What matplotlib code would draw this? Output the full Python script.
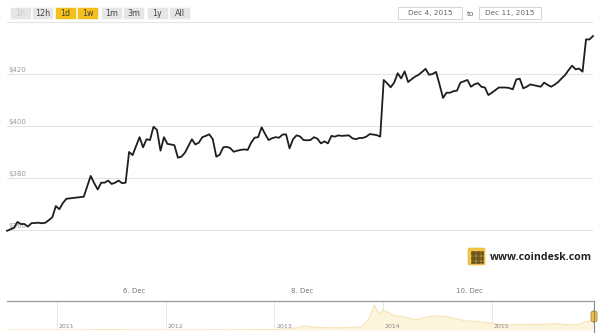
import numpy as np
import pandas as pd
import matplotlib
matplotlib.use("Agg")
import matplotlib.pyplot as plt
from matplotlib.patches import Rectangle, FancyBboxPatch

# hourly bitcoin price (hours after the first point)
start = pd.Timestamp("2015-12-04 11:30")
hours = [0, 2, 3, 4, 5, 6, 7, 9, 10, 11, 12, 13, 14, 15, 16, 17, 22,
         24, 25, 26, 27, 28, 29, 30, 31, 32, 33, 34, 35, 36, 37, 38, 39, 40,
         41, 42, 43, 44, 45, 46, 47, 48, 49, 50, 51, 52, 53, 54, 55, 56, 57,
         58, 59, 60, 61, 62, 63, 64, 65, 66, 67, 68, 69, 70, 71, 72, 73, 74,
         75, 76, 77, 78, 79, 80, 81, 82, 83, 84, 85, 86, 87, 88, 89, 90, 91,
         92, 93, 94, 95, 96, 98, 99, 100, 101, 102, 103, 104, 106, 107,
         108, 109, 110, 111, 112, 113, 114, 115, 116, 117, 118, 119, 120,
         121, 122, 123, 124, 125, 126, 127, 128, 129, 130, 131, 132, 133,
         134, 135, 136, 137, 138, 139, 140, 141, 143, 144, 145, 146, 147,
         148, 149, 150, 152, 153, 154, 155, 156, 157, 158, 159, 160, 161,
         162, 163, 164, 165, 166, 167, 168]
price = [359.7, 360.8, 363.1, 362.3, 362.3, 361.3, 362.6, 362.8, 362.6, 362.8,
         363.8, 364.9, 369.2, 368.0, 370.3, 372.0, 372.8,
         380.8, 378.0, 375.6, 378.2, 378.2, 379.0, 377.7, 378.2, 379.0, 378.0,
         378.2, 390.0, 388.8, 392.3, 395.7, 391.8, 394.9,
         394.6, 399.7, 398.5, 390.5, 395.7, 393.1, 392.9, 392.6, 387.8, 388.2,
         389.7, 392.3, 394.9, 392.9, 393.6, 395.7, 396.2,
         396.8, 394.9, 388.2, 389.0, 391.8, 392.0, 391.5, 390.1, 390.5, 390.8,
         391.0, 390.8, 393.6, 395.5, 395.7, 399.5, 396.9,
         394.6, 395.3, 395.7, 395.5, 396.7, 396.8, 391.4, 394.9, 396.4, 396.0,
         394.6, 394.5, 394.6, 395.7, 395.1, 393.3, 394.1,
         393.3, 396.2, 395.9, 396.4, 396.2, 396.4, 395.3, 394.9, 395.4, 395.4,
         395.9, 396.9, 396.5, 395.9,
         417.7, 416.4, 414.9, 416.7, 420.3, 418.3, 421.0, 416.9, 418.0, 419.0,
         419.7, 420.8, 422.0,
         419.7, 420.0, 420.8, 416.0, 410.8, 412.8, 412.8, 413.4, 413.6, 416.7,
         417.2, 417.7, 415.1,
         416.0, 416.5, 415.1, 414.8, 411.9, 412.8, 413.8, 414.8, 414.8, 414.6,
         414.1, 417.9, 418.2,
         414.5, 415.1, 416.0, 415.4, 415.1, 416.7, 415.8, 415.1, 415.9, 416.9,
         418.3, 419.6, 421.5,
         423.2, 421.8, 422.1, 420.9, 433.3, 433.3, 434.6]

y_grid = [360, 380, 400, 420, 440]
y_labels = ["$360", "$380", "$400", "$420"]
x_tick_days = ["2015-12-06", "2015-12-08", "2015-12-10"]
x_tick_labels = ["6. Dec", "8. Dec", "10. Dec"]

# navigator: whole price history (decimal year, usd), rough reading
nav_year = [2010.54, 2010.9, 2011.2, 2011.45, 2011.7, 2012.0, 2012.5, 2013.0,
            2013.2, 2013.28, 2013.4, 2013.6, 2013.8, 2013.87, 2013.92, 2013.96,
            2014.0, 2014.1, 2014.2, 2014.3, 2014.45, 2014.6, 2014.75, 2014.9,
            2015.0, 2015.1, 2015.3, 2015.5, 2015.6, 2015.7, 2015.8, 2015.85,
            2015.93]
nav_price = [0, 0.3, 1, 18, 5, 5, 7, 14, 90, 180, 110, 95, 140, 500, 1100, 700,
             880, 650, 560, 450, 620, 580, 410, 360, 300, 230, 240, 250, 280,
             230, 240, 360, 420]
nav_years = [2011, 2012, 2013, 2014, 2015]

W, H = 600, 333


def fx(x):
    return x / W


def fy(y):
    return 1 - y / H


fig = plt.figure(figsize=(6, 3.33), dpi=100)
fig.patch.set_facecolor("white")

# ---- main chart ----
ax = fig.add_axes([fx(7), fy(278), fx(586), 258 / H])
times = start + pd.to_timedelta(hours, unit="h")
ax.plot(times, price, color="#1e1e1e", linewidth=1.3, zorder=3, clip_on=False)
for g in y_grid:
    ax.axhline(g, color="#e4e4e4", linewidth=0.8, zorder=1)
ax.set_ylim(360 - 48 / 2.6, 360 + 210 / 2.6)
ax.set_xlim(start, start + pd.Timedelta(hours=168))
for g, lab in zip(y_grid, y_labels):
    ax.text(0.002, g + 1.7, lab, transform=ax.get_yaxis_transform(),
            fontsize=5, color="#9a9a9a", va="center", ha="left", zorder=2)
ax.set_xticks(pd.to_datetime(x_tick_days))
ax.set_xticklabels(x_tick_labels, fontsize=5, color="#777777")
ax.tick_params(axis="x", length=0, pad=7)
ax.set_yticks([])
for s in ax.spines.values():
    s.set_visible(False)

# ---- navigator ----
nav = fig.add_axes([fx(7), fy(330), fx(586), 29 / H])
nav.fill_between(nav_year, nav_price, color="#fdf4dc", linewidth=0)
nav.plot(nav_year, nav_price, color="#f7e3b5", linewidth=0.8)
nav.set_xlim(2010.54, 2015.93)
nav.set_ylim(0, 1280)
for yr in nav_years:
    nav.axvline(yr, color="#e8e8e8", linewidth=0.7, zorder=0)
    nav.text(yr + 0.015, 0.12, str(yr), transform=nav.get_xaxis_transform(),
             fontsize=4.5, color="#8a8a8a", ha="left", va="center")
nav.set_xticks([])
nav.set_yticks([])
for k in ["left", "right", "bottom"]:
    nav.spines[k].set_visible(False)
nav.spines["top"].set_color("#999999")
nav.spines["top"].set_linewidth(0.9)

# range handle at the right end
fig.add_artist(plt.Line2D([fx(594), fx(594)], [fy(301), fy(333)],
                          transform=fig.transFigure, color="#888888", lw=0.8))
fig.add_artist(FancyBboxPatch((fx(591), fy(322)), fx(6), 11 / H,
                              boxstyle="round,pad=0,rounding_size=0.006",
                              transform=fig.transFigure, facecolor="#f2c03a",
                              edgecolor="#a08030", linewidth=0.5))

# ---- range buttons ----
btn_labels = ["1h", "12h", "1d", "1w", "1m", "3m", "1y", "All"]
btn_left = [10, 32, 55, 77, 101, 123, 147, 169]
btn_state = ["off", "", "on", "on", "", "", "", ""]
for lab, bx, st in zip(btn_labels, btn_left, btn_state):
    face = "#f5bf1b" if st == "on" else "#e6e6e6"
    tcol = "#c9c9c9" if st == "off" else "#444444"
    fig.add_artist(Rectangle((fx(bx), fy(19)), fx(21), 12 / H,
                             transform=fig.transFigure, facecolor=face,
                             edgecolor="white", linewidth=0.4))
    fig.text(fx(bx + 10.5), fy(13), lab, fontsize=5.8, color=tcol,
             ha="center", va="center")

# ---- date boxes ----
for x0, w, lab in [(398, 64, "Dec 4, 2015"), (479, 62, "Dec 11, 2015")]:
    fig.add_artist(Rectangle((fx(x0), fy(18.5)), fx(w), 11.5 / H,
                             transform=fig.transFigure, facecolor="white",
                             edgecolor="#cfcfcf", linewidth=0.6))
    fig.text(fx(x0 + w / 2), fy(12.8), lab, fontsize=5.3, color="#666666",
             ha="center", va="center")
fig.text(fx(471), fy(13.5), "to", fontsize=5.3, color="#666666",
         ha="center", va="center")

# ---- coindesk logo ----
fig.add_artist(FancyBboxPatch((fx(468), fy(265)), fx(17), 17 / H,
                              boxstyle="round,pad=0,rounding_size=0.004",
                              transform=fig.transFigure, facecolor="#f3c64a",
                              edgecolor="#e0b030", linewidth=0.4))
dx = np.linspace(471.5, 481.5, 5)
dy = np.linspace(251.5, 261.5, 5)
gx, gy = np.meshgrid(dx, dy)
fig.add_artist(plt.Line2D(fx(gx.ravel()), fy(gy.ravel()), transform=fig.transFigure,
                          linestyle="none", marker="s", markersize=1.0,
                          color="#6b5520"))
fig.text(fx(490), fy(257), "www.coindesk.com", fontsize=7.6, color="#222222",
         ha="left", va="center", fontweight="bold", family="Open Sans")

fig.savefig("out.png", dpi=100, facecolor="white")
